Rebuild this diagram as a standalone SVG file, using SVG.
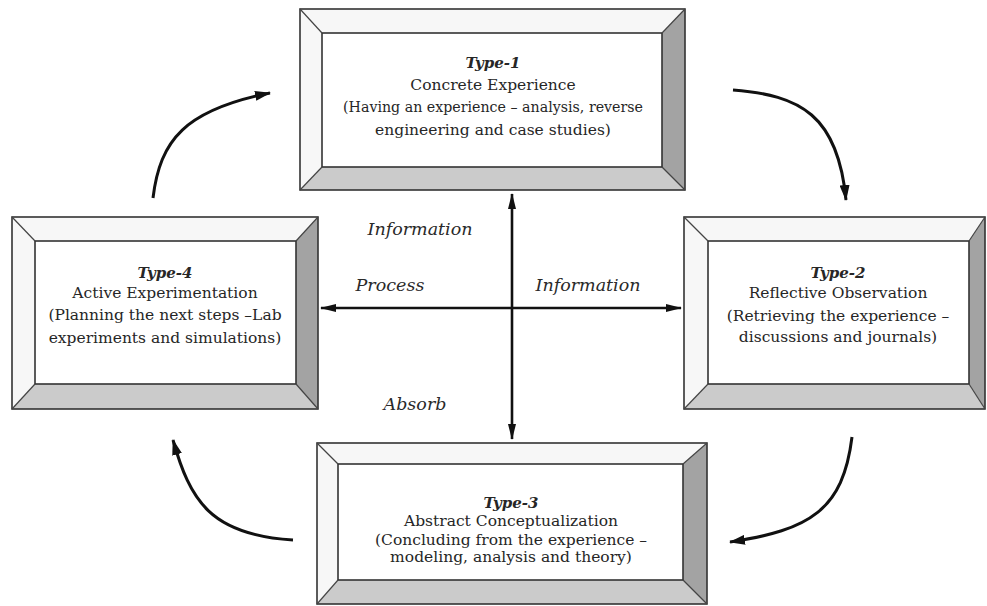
<svg xmlns="http://www.w3.org/2000/svg" width="987" height="606" viewBox="0 0 987 606">
<style>
.lt{fill:#f7f7f7}
.dk{fill:#a3a3a3}
.md{fill:#cbcbcb}
.in{fill:#ffffff;stroke:#333;stroke-width:1.6}
.out{fill:none;stroke:#333;stroke-width:1.6}
.dg{stroke:#444;stroke-width:1.2}
.t{font-family:"DejaVu Serif","Liberation Serif",serif;font-size:15.5px;fill:#262626;text-anchor:middle}
.h{font-style:italic;font-weight:bold;font-size:15px}
.lab{font-family:"DejaVu Serif","Liberation Serif",serif;font-style:italic;font-size:17.5px;fill:#2a2a2a;text-anchor:middle}
.c{fill:none;stroke:#111;stroke-width:3}
.x{fill:none;stroke:#111;stroke-width:2.6}
</style>
<defs>
<marker id="ah" viewBox="0 0 16 10" refX="15" refY="5" markerWidth="16" markerHeight="10" markerUnits="userSpaceOnUse" orient="auto">
<path d="M0,0 L16,5 L0,10 Z" fill="#111"/>
</marker>
<marker id="ax" viewBox="0 0 16 8" refX="15" refY="4" markerWidth="16" markerHeight="8" markerUnits="userSpaceOnUse" orient="auto-start-reverse">
<path d="M0,0 L16,4 L0,8 Z" fill="#111"/>
</marker>
</defs>
<rect width="987" height="606" fill="#ffffff"/>

<g id="type1">
<polygon class="lt" points="300,9 685,9 662,33 322,33"/>
<polygon class="lt" points="300,9 322,33 322,167 300,190"/>
<polygon class="dk" points="685,9 685,190 662,167 662,33"/>
<polygon class="md" points="300,190 685,190 662,167 322,167"/>
<rect class="in" x="322" y="33" width="340" height="134"/>
<rect class="out" x="300" y="9" width="385" height="181"/>
<line class="dg" x1="300" y1="9" x2="322" y2="33"/><line class="dg" x1="685" y1="9" x2="662" y2="33"/>
<line class="dg" x1="300" y1="190" x2="322" y2="167"/><line class="dg" x1="685" y1="190" x2="662" y2="167"/>
<text class="t h" x="493" y="68">Type-1</text>
<text class="t" x="493" y="90">Concrete Experience</text>
<text class="t" x="493" y="112" textLength="300" lengthAdjust="spacingAndGlyphs">(Having an experience – analysis, reverse</text>
<text class="t" x="493" y="135">engineering and case studies)</text>
</g>

<g id="type4">
<polygon class="lt" points="12,217 318,217 296,241 35,241"/>
<polygon class="lt" points="12,217 35,241 35,384 12,409"/>
<polygon class="dk" points="318,217 318,409 296,384 296,241"/>
<polygon class="md" points="12,409 318,409 296,384 35,384"/>
<rect class="in" x="35" y="241" width="261" height="143"/>
<rect class="out" x="12" y="217" width="306" height="192"/>
<line class="dg" x1="12" y1="217" x2="35" y2="241"/><line class="dg" x1="318" y1="217" x2="296" y2="241"/>
<line class="dg" x1="12" y1="409" x2="35" y2="384"/><line class="dg" x1="318" y1="409" x2="296" y2="384"/>
<text class="t h" x="165" y="278">Type-4</text>
<text class="t" x="165" y="298">Active Experimentation</text>
<text class="t" x="165" y="320">(Planning the next steps –Lab</text>
<text class="t" x="165" y="343">experiments and simulations)</text>
</g>

<g id="type2">
<polygon class="lt" points="684,217 985,217 969,241 708,241"/>
<polygon class="lt" points="684,217 708,241 708,384 684,409"/>
<polygon class="dk" points="985,217 985,409 969,384 969,241"/>
<polygon class="md" points="684,409 985,409 969,384 708,384"/>
<rect class="in" x="708" y="241" width="261" height="143"/>
<rect class="out" x="684" y="217" width="301" height="192"/>
<line class="dg" x1="684" y1="217" x2="708" y2="241"/><line class="dg" x1="985" y1="217" x2="969" y2="241"/>
<line class="dg" x1="684" y1="409" x2="708" y2="384"/><line class="dg" x1="985" y1="409" x2="969" y2="384"/>
<text class="t h" x="838" y="278">Type-2</text>
<text class="t" x="838" y="298">Reflective Observation</text>
<text class="t" x="838" y="321">(Retrieving the experience –</text>
<text class="t" x="838" y="342">discussions and journals)</text>
</g>

<g id="type3">
<polygon class="lt" points="317,443 707,443 683,464 338,464"/>
<polygon class="lt" points="317,443 338,464 338,580 317,604"/>
<polygon class="dk" points="707,443 707,604 683,580 683,464"/>
<polygon class="md" points="317,604 707,604 683,580 338,580"/>
<rect class="in" x="338" y="464" width="345" height="116"/>
<rect class="out" x="317" y="443" width="390" height="161"/>
<line class="dg" x1="317" y1="443" x2="338" y2="464"/><line class="dg" x1="707" y1="443" x2="683" y2="464"/>
<line class="dg" x1="317" y1="604" x2="338" y2="580"/><line class="dg" x1="707" y1="604" x2="683" y2="580"/>
<text class="t h" x="511" y="508">Type-3</text>
<text class="t" x="511" y="526">Abstract Conceptualization</text>
<text class="t" x="511" y="545">(Concluding from the experience –</text>
<text class="t" x="511" y="562">modeling, analysis and theory)</text>
</g>

<g id="connectors">
<path class="c" d="M153,198 C160,140 185,110 270,93" marker-end="url(#ah)"/>
<path class="c" d="M733,90 C800,95 838,115 846,200" marker-end="url(#ah)"/>
<path class="c" d="M852,437 C843,510 810,530 730,542" marker-end="url(#ah)"/>
<path class="c" d="M293,540 C210,535 190,500 173,440" marker-end="url(#ah)"/>
<line class="x" x1="512" y1="194" x2="512" y2="439" marker-start="url(#ax)" marker-end="url(#ax)"/>
<line class="x" x1="321" y1="308" x2="681" y2="308" marker-start="url(#ax)" marker-end="url(#ax)"/>
</g>

<g id="labels">
<text class="lab" x="420" y="235">Information</text>
<text class="lab" x="390" y="291">Process</text>
<text class="lab" x="588" y="291">Information</text>
<text class="lab" x="415" y="410">Absorb</text>
</g>
</svg>
